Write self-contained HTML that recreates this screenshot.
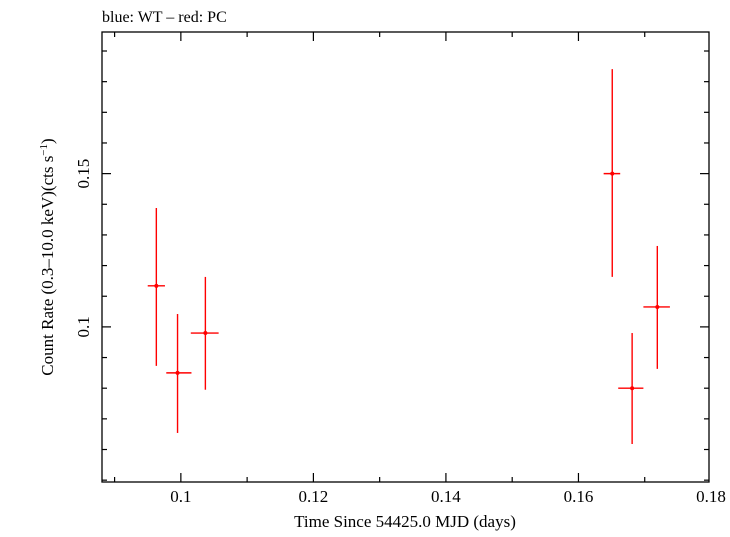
<!DOCTYPE html>
<html><head><meta charset="utf-8"><style>
body{margin:0;background:#fff;}
svg text{font-family:"Liberation Serif",serif;fill:#000;}
</style></head><body>
<svg width="730" height="532">
<text x="102" y="22" font-size="16">blue: WT – red: PC</text>
<rect x="102" y="32" width="607" height="450" fill="none" stroke="#000" stroke-width="1.3"/>
<g id="ticks"></g>
<g id="marks"></g>
<text x="405" y="527" font-size="17" text-anchor="middle">Time Since 54425.0 MJD (days)</text>
<text transform="translate(53,257) rotate(-90)" font-size="17" text-anchor="middle">Count Rate (0.3–10.0 keV)(cts s<tspan baseline-shift="super" font-size="11">−1</tspan>)</text>
</svg>
<script>
const xTicks=[0.1,0.12,0.14,0.16,0.18];
const xTickLabels=["0.1","0.12","0.14","0.16","0.18"];
const yTicks=[0.1,0.15];
const yTickLabels=["0.1","0.15"];
const times=[0.0963,0.0995,0.1037,0.1651,0.1681,0.1719];
const timeLo=[0.0950,0.0978,0.1015,0.1638,0.1660,0.1698];
const timeHi=[0.0976,0.1016,0.1057,0.1663,0.1698,0.1738];
const rates=[0.1134,0.0850,0.0980,0.1500,0.0800,0.1065];
const rateLo=[0.0873,0.0654,0.0795,0.1163,0.0618,0.0863];
const rateHi=[0.1388,0.1042,0.1163,0.1841,0.0980,0.1264];
const X0=102,X1=709,Y0=482,Y1=32,xmin=0.0881,xmax=0.1797,ymin=0.0494,ymax=0.1962;
const xs=v=>X0+(v-xmin)/(xmax-xmin)*(X1-X0);
const ys=v=>Y0-(v-ymin)/(ymax-ymin)*(Y0-Y1);
const NS="http://www.w3.org/2000/svg";
function mk(t,a,p){const e=document.createElementNS(NS,t);for(const k in a)e.setAttribute(k,a[k]);p.appendChild(e);return e;}
const tg=document.getElementById('ticks'),mg=document.getElementById('marks');
for(let i=0;i<=9;i++){const v=0.09+i*0.01;if(v>xmax)break;const x=xs(v);const major=Math.abs(((v*100)%2))<0.01||Math.abs(((v*100)%2)-2)<0.01;const L=major?9:5;
 const a=mk('line',{x1:x,x2:x,y1:Y0,y2:Y0-L,stroke:'#000','stroke-width':1.2},tg);
 
 const b=mk('line',{x1:x,x2:x,y1:Y1,y2:Y1+L,stroke:'#000','stroke-width':1.2},tg);
 }
xTicks.forEach((v,i)=>{const t=mk('text',{x:xs(v),y:502,'font-size':17,'text-anchor':'middle'},tg);t.textContent=xTickLabels[i];
 });
for(let i=0;i<15;i++){const v=0.05+i*0.01;if(v>ymax)break;const y=ys(v);const major=yTicks.some(t=>Math.abs(t-v)<1e-6);const L=major?9:5;
 const a=mk('line',{x1:X0,x2:X0+L,y1:y,y2:y,stroke:'#000','stroke-width':1.2},tg);
 
 const b=mk('line',{x1:X1,x2:X1-L,y1:y,y2:y,stroke:'#000','stroke-width':1.2},tg);
 }
yTicks.forEach((v,i)=>{const t=mk('text',{'font-size':17,'text-anchor':'middle',transform:`translate(89,${ys(v)}) rotate(-90)`},tg);t.textContent=yTickLabels[i];
 });
times.forEach((t,i)=>{const g=mk('g',{},mg);
 
 mk('line',{x1:xs(timeLo[i]),x2:xs(timeHi[i]),y1:ys(rates[i]),y2:ys(rates[i]),stroke:'#f00','stroke-width':1.4},g);
 mk('line',{x1:xs(t),x2:xs(t),y1:ys(rateLo[i]),y2:ys(rateHi[i]),stroke:'#f00','stroke-width':1.4},g);
 mk('circle',{cx:xs(t),cy:ys(rates[i]),r:2,fill:'#f00'},g);});
</script>
</body></html>
